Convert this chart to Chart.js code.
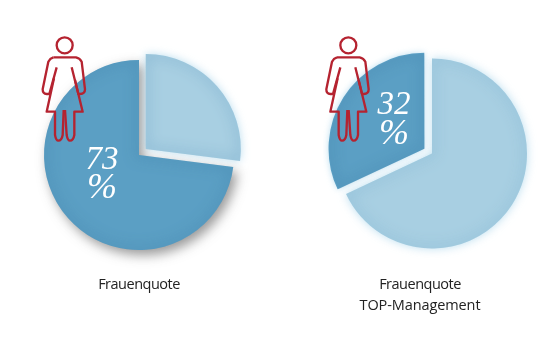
<!DOCTYPE html>
<html>
<head>
<meta charset="utf-8">
<script src="https://cdn.jsdelivr.net/npm/chart.js@4"></script>
<style>
  body { margin: 0; background: #fff; }
  #page { position: relative; width: 541px; height: 361px; overflow: hidden; }
  canvas, svg, .caption { position: absolute; }
  .caption { font: 14.5px/21px "Open Sans", sans-serif; letter-spacing: -0.5px; color: #222; text-align: center; width: 200px; }
  .caption span { letter-spacing: -0.1px; }
</style>
</head>
<body>
<div id="page">
  <canvas id="pieLeft" width="278" height="310" style="left:0;top:0"></canvas>
  <canvas id="pieRight" width="218" height="307" style="left:323px;top:0"></canvas>
  <svg width="541" height="361" viewBox="0 0 1623 1083" fill="none" stroke="#b52330" stroke-width="7" stroke-linejoin="round">
    <defs>
      <g id="woman">
        <circle cx="194" cy="136" r="24"/>
        <path d="M160 172 H228 Q240 175 245 185 L255 268 Q255 282 240 282 H235 L215 202"/>
        <path d="M160 172 Q150 175 145 185 L128 268 Q128 282 140 282 H148 L170 202"/>
        <path d="M162 235 L140 335 H165 V405 Q168 422 175 422 Q185 422 188 405 L191 330"/>
        <path d="M195 330 L200 405 Q203 422 210 422 Q220 422 223 405 V335 H248 L225 240"/>
      </g>
    </defs>
    <use href="#woman"/>
    <use href="#woman" x="851"/>
  </svg>
  <div class="caption" style="left:39px;top:273px">Frauenquote</div>
  <div class="caption" style="left:320px;top:273px">Frauenquote<br><span>TOP-Management</span></div>
</div>
<script>
const leftValues = [27, 73];
const rightValues = [68, 32];
const leftOffsets = [36, 0];
const rightOffsets = [0, 36];
const lightBlue = '#a8cfe2';
const darkBlue = '#5b9fc4';

// draws slices biggest first with their own shadow, then a soft inner edge
const slicePlugin = {
    id: 'slices',
    beforeDatasetDraw(chart, args, opts) {
        const ctx = chart.ctx;
        const arcs = chart.getDatasetMeta(0).data;
        const values = chart.data.datasets[0].data;
        const order = values.map((v, i) => i).sort((a, b) => values[b] - values[a]);
        order.forEach(i => {
            const arc = arcs[i];
            const st = opts.styles[i];
            ctx.save();
            ctx.shadowColor = st.shadow;
            ctx.shadowBlur = st.blur;
            ctx.shadowOffsetX = st.dx;
            ctx.shadowOffsetY = st.dy;
            arc.draw(ctx);
            ctx.restore();

            // Arc.draw moves a slice by offset / 4
            const mid = (arc.startAngle + arc.endAngle) / 2;
            const off = chart.data.datasets[0].offset[i] / 4;
            const x = arc.x + Math.cos(mid) * off;
            const y = arc.y + Math.sin(mid) * off;
            ctx.save();
            ctx.beginPath();
            ctx.moveTo(x, y);
            ctx.arc(x, y, arc.outerRadius, arc.startAngle, arc.endAngle);
            ctx.closePath();
            ctx.clip();
            // only the shadow of the stroke lands inside the slice
            ctx.beginPath();
            ctx.moveTo(x - 2000, y);
            ctx.arc(x - 2000, y, arc.outerRadius, arc.startAngle, arc.endAngle);
            ctx.closePath();
            ctx.strokeStyle = '#000';
            ctx.shadowColor = st.edge;
            ctx.shadowBlur = 13;
            ctx.shadowOffsetX = 2000;
            ctx.lineWidth = 3;
            ctx.stroke();
            ctx.restore();
        });
        return false;
    },
    afterDraw(chart, args, opts) {
        const ctx = chart.ctx;
        const arc = chart.getDatasetMeta(0).data[0];
        const value = chart.data.datasets[0].data[opts.labelIndex];
        ctx.save();
        ctx.fillStyle = '#fff';
        ctx.textAlign = 'center';
        ctx.textBaseline = 'middle';
        ctx.font = 'italic 33px "Liberation Serif", serif';
        ctx.fillText(value, arc.x + opts.labelDx, arc.y + opts.labelDy);
        ctx.font = 'italic 36px "Liberation Serif", serif';
        ctx.fillText('%', arc.x + opts.labelDx, arc.y + opts.labelDy + 29);
        ctx.restore();
    }
};

function makePie(id, values, offsets, slices) {
    new Chart(document.getElementById(id), {
        type: 'pie',
        data: {
            datasets: [{ data: values, backgroundColor: [lightBlue, darkBlue], offset: offsets, borderWidth: 0 }]
        },
        options: {
            responsive: false,
            animation: false,
            radius: 95,
            events: [],
            plugins: { legend: { display: false }, tooltip: { enabled: false }, slices: slices }
        },
        plugins: [slicePlugin]
    });
}

const grayShadow = 'rgba(70,70,70,0.55)';
const glow = 'rgba(150,205,230,0.65)';

makePie('pieLeft', leftValues, leftOffsets, {
    labelIndex: 1, labelDx: -37, labelDy: 5,
    styles: [
        { shadow: glow, blur: 9, dx: 0, dy: 0, edge: 'rgba(105,160,195,0.9)' },
        { shadow: grayShadow, blur: 12, dx: 4, dy: 5, edge: 'rgba(65,130,170,0.9)' }
    ]
});

makePie('pieRight', rightValues, rightOffsets, {
    labelIndex: 1, labelDx: -38, labelDy: -48,
    styles: [
        { shadow: glow, blur: 10, dx: 0, dy: 0, edge: 'rgba(125,178,208,0.9)' },
        { shadow: glow, blur: 6, dx: 0, dy: 0, edge: 'rgba(65,130,170,0.9)' }
    ]
});
</script>
</body>
</html>
